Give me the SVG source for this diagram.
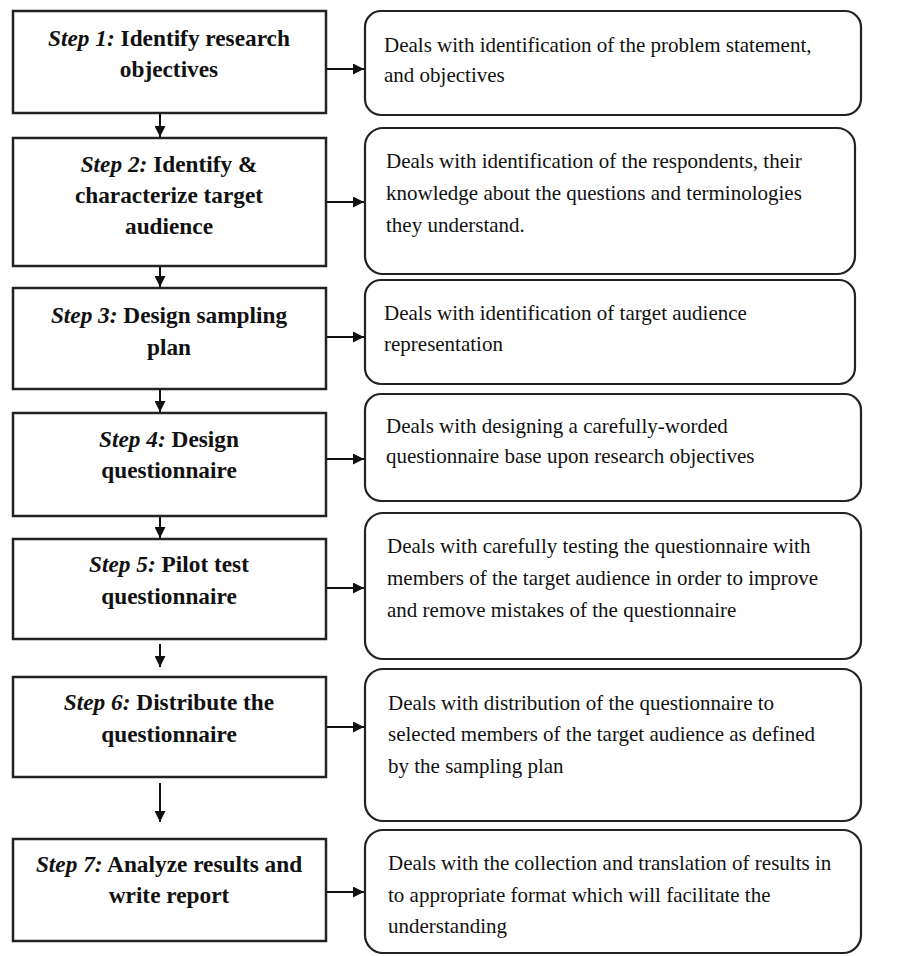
<svg xmlns="http://www.w3.org/2000/svg" width="917" height="956" viewBox="0 0 917 956">
<style>
.step{fill:#fff;stroke:#222;stroke-width:2.5}
.desc{fill:#fff;stroke:#222;stroke-width:2.2}
.lt{font-family:'Liberation Serif','Tinos','Times New Roman','Noto Serif','DejaVu Serif',serif;font-size:23.3px;font-weight:bold;fill:#111;text-anchor:middle}
.lt tspan.i{font-style:italic}
.rt{font-family:'Liberation Serif','Tinos','Times New Roman','Noto Serif','DejaVu Serif',serif;font-size:21px;fill:#111}
.c{stroke:#111;stroke-width:2;fill:none}
</style>
<defs>
<marker id="ah" viewBox="0 0 10 10" refX="10" refY="5" markerWidth="11" markerHeight="11" markerUnits="userSpaceOnUse" orient="auto">
<path d="M0,0 L10,5 L0,10 z" fill="#111"/>
</marker>
</defs>
<rect width="917" height="956" fill="#fff"/>
<g id="connectors">
<line class="c" x1="160" y1="113" x2="160" y2="137" marker-end="url(#ah)"/>
<line class="c" x1="160" y1="266" x2="160" y2="287" marker-end="url(#ah)"/>
<line class="c" x1="160" y1="389" x2="160" y2="412" marker-end="url(#ah)"/>
<line class="c" x1="160" y1="516" x2="160" y2="538" marker-end="url(#ah)"/>
<line class="c" x1="160" y1="644" x2="160" y2="667" marker-end="url(#ah)"/>
<line class="c" x1="160" y1="783" x2="160" y2="822" marker-end="url(#ah)"/>
<line class="c" x1="326" y1="69" x2="364" y2="69" marker-end="url(#ah)"/>
<line class="c" x1="326" y1="202" x2="364" y2="202" marker-end="url(#ah)"/>
<line class="c" x1="326" y1="337" x2="364" y2="337" marker-end="url(#ah)"/>
<line class="c" x1="326" y1="459" x2="364" y2="459" marker-end="url(#ah)"/>
<line class="c" x1="326" y1="588" x2="364" y2="588" marker-end="url(#ah)"/>
<line class="c" x1="326" y1="727" x2="364" y2="727" marker-end="url(#ah)"/>
<line class="c" x1="326" y1="892" x2="364" y2="892" marker-end="url(#ah)"/>
</g>
<g id="step1">
<rect class="step" x="13" y="11" width="313" height="102"/>
<text class="lt" x="169" y="46"><tspan class="i">Step 1:</tspan> Identify research</text>
<text class="lt" x="169" y="77">objectives</text>
</g>
<g id="step2">
<rect class="step" x="13" y="138" width="313" height="128"/>
<text class="lt" x="169" y="172"><tspan class="i">Step 2:</tspan> Identify &amp;</text>
<text class="lt" x="169" y="203">characterize target</text>
<text class="lt" x="169" y="234">audience</text>
</g>
<g id="step3">
<rect class="step" x="13" y="288" width="313" height="101"/>
<text class="lt" x="169" y="323"><tspan class="i">Step 3:</tspan> Design sampling</text>
<text class="lt" x="169" y="355">plan</text>
</g>
<g id="step4">
<rect class="step" x="13" y="413" width="313" height="103"/>
<text class="lt" x="169" y="447"><tspan class="i">Step 4:</tspan> Design</text>
<text class="lt" x="169" y="478">questionnaire</text>
</g>
<g id="step5">
<rect class="step" x="13" y="539" width="313" height="100"/>
<text class="lt" x="169" y="572"><tspan class="i">Step 5:</tspan> Pilot test</text>
<text class="lt" x="169" y="604">questionnaire</text>
</g>
<g id="step6">
<rect class="step" x="13" y="677" width="313" height="100"/>
<text class="lt" x="169" y="710"><tspan class="i">Step 6:</tspan> Distribute the</text>
<text class="lt" x="169" y="742">questionnaire</text>
</g>
<g id="step7">
<rect class="step" x="13" y="839" width="313" height="102"/>
<text class="lt" x="169" y="872"><tspan class="i">Step 7:</tspan> Analyze results and</text>
<text class="lt" x="169" y="903">write report</text>
</g>
<g id="desc1">
<rect class="desc" x="365" y="11" width="496" height="104" rx="16"/>
<text class="rt" x="384" y="52">Deals with identification of the problem statement,</text>
<text class="rt" x="384" y="82">and objectives</text>
</g>
<g id="desc2">
<rect class="desc" x="365" y="128" width="490" height="146" rx="18"/>
<text class="rt" x="386" y="168">Deals with identification of the respondents, their</text>
<text class="rt" x="386" y="200">knowledge about the questions and terminologies</text>
<text class="rt" x="386" y="232">they understand.</text>
</g>
<g id="desc3">
<rect class="desc" x="365" y="280" width="490" height="104" rx="16"/>
<text class="rt" x="384" y="320">Deals with identification of target audience</text>
<text class="rt" x="384" y="351">representation</text>
</g>
<g id="desc4">
<rect class="desc" x="365" y="394" width="496" height="107" rx="16"/>
<text class="rt" x="386" y="433">Deals with designing a carefully-worded</text>
<text class="rt" x="386" y="463">questionnaire base upon research objectives</text>
</g>
<g id="desc5">
<rect class="desc" x="365" y="513" width="496" height="146" rx="18"/>
<text class="rt" x="387" y="553">Deals with carefully testing the questionnaire with</text>
<text class="rt" x="387" y="585">members of the target audience in order to improve</text>
<text class="rt" x="387" y="617">and remove mistakes of the questionnaire</text>
</g>
<g id="desc6">
<rect class="desc" x="365" y="669" width="496" height="152" rx="18"/>
<text class="rt" x="388" y="710">Deals with distribution of the questionnaire to</text>
<text class="rt" x="388" y="741">selected members of the target audience as defined</text>
<text class="rt" x="388" y="773">by the sampling plan</text>
</g>
<g id="desc7">
<rect class="desc" x="365" y="830" width="496" height="123" rx="18"/>
<text class="rt" x="388" y="870">Deals with the collection and translation of results in</text>
<text class="rt" x="388" y="902">to appropriate format which will facilitate the</text>
<text class="rt" x="388" y="933">understanding</text>
</g>
</svg>
